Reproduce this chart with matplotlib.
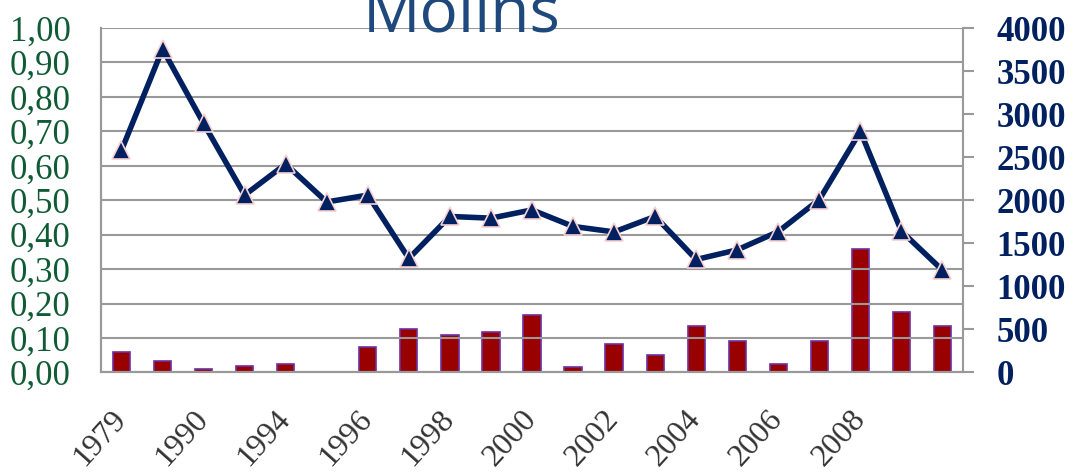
import matplotlib
matplotlib.use("Agg")
import matplotlib.pyplot as plt
import numpy as np

# Yearly ratio (left axis) and counts (right axis) for Molins
ratio = [0.645, 0.939, 0.723, 0.515, 0.605, 0.495, 0.515, 0.331, 0.453, 0.448,
         0.472, 0.424, 0.408, 0.453, 0.328, 0.356, 0.409, 0.502, 0.700, 0.410, 0.297]
counts = [241, 137, 37, 72, 102, 0, 300, 505, 435, 470,
          668, 67, 334, 203, 536, 369, 102, 369, 1434, 706, 536]
tick_labels = ["1979", "1990", "1994", "1996", "1998", "2000",
               "2002", "2004", "2006", "2008"]
left_ticks = [0.0, 0.1, 0.2, 0.3, 0.4, 0.5, 0.6, 0.7, 0.8, 0.9, 1.0]
right_ticks = [0, 500, 1000, 1500, 2000, 2500, 3000, 3500, 4000]
title = "Molins"

x = np.arange(len(ratio))

fig = plt.figure(figsize=(10.73, 4.73), dpi=100)
ax = fig.add_axes([0.0941, 0.2125, 0.8034, 0.7283])
ax2 = ax.twinx()

grid_col = "#999999"
serif = ["Liberation Serif", "DejaVu Serif"]

# bars on the secondary scale
ax2.bar(x, counts, width=0.42, color="#990000", edgecolor="#7030A0",
        linewidth=1.2, zorder=2)
ax2.set_ylim(0, 4000)
ax2.set_yticks(right_ticks)
ax2.set_yticklabels([str(v) for v in right_ticks], fontfamily=serif,
                    fontsize=25, fontweight="bold", color="#002060")
ax2.tick_params(axis="y", direction="out", length=8, width=1.5,
                color=grid_col, pad=16)

# ratio line on the primary scale, drawn above the bars
ax.set_zorder(ax2.get_zorder() + 1)
ax.patch.set_visible(False)
ax.plot(x, ratio, color="#002060", linewidth=4.0, marker="^", markersize=13,
        markerfacecolor="#002060", markeredgecolor="#F8D0D0",
        markeredgewidth=1.2, zorder=3, clip_on=False)
ax.set_ylim(0, 1.0)
ax.set_yticks(left_ticks)
ax.set_yticklabels([f"{v:.2f}".replace(".", ",") for v in left_ticks],
                   fontfamily=serif, fontsize=25, color="#0F5B35")
ax.tick_params(axis="y", length=0, pad=22)
ax.yaxis.grid(True, color=grid_col, linewidth=1.5)
ax.set_axisbelow(True)

# every other category carries a label
ax.set_xlim(-0.5, len(ratio) - 0.5)
ax.set_xticks(x[0:2 * len(tick_labels):2])
ax.set_xticklabels(tick_labels, rotation=48, ha="right", va="center",
                   rotation_mode="anchor", fontfamily=serif, fontsize=23,
                   color="#333333")
ax.tick_params(axis="x", length=0, pad=30)

for a in (ax, ax2):
    a.spines["top"].set_visible(False)
    for s in ("left", "right", "bottom"):
        a.spines[s].set_color(grid_col)
        a.spines[s].set_linewidth(1.5)
ax.spines["right"].set_visible(False)

fig.text(462 / 1073, 1 - 32 / 473, title, ha="center", va="baseline",
         fontfamily=["Open Sans", "DejaVu Sans"], fontsize=46, color="#1F497D")

fig.savefig("out.png", dpi=100)
